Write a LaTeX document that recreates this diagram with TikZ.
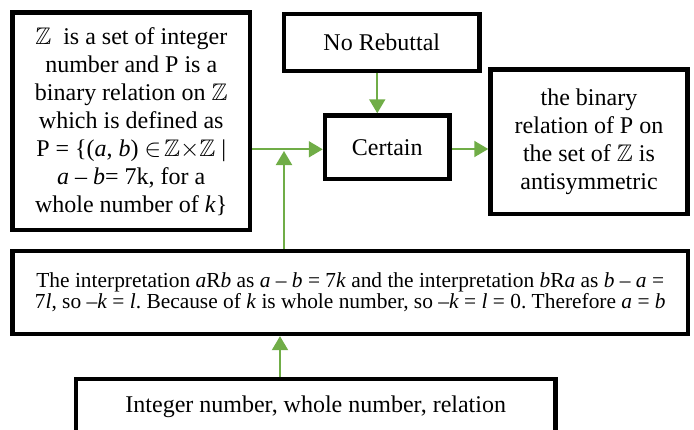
\documentclass[tikz,border=0pt]{standalone}
\usepackage{amssymb}
\usepackage{fontspec}
\setmainfont{Liberation Serif}
\usetikzlibrary{arrows.meta}
\definecolor{flowgreen}{HTML}{70AD47}
\frenchspacing

\begin{document}
\begin{tikzpicture}[x=1pt,y=-1pt,
    box/.style={draw,line width=4.5pt,align=center,inner sep=0pt,
        font=\fontsize{24}{28}\selectfont},
    flow/.style={draw=flowgreen,line width=2pt,-{Triangle[length=14pt,width=16pt]}}]
\clip (0,0) rectangle (694,429);
% boxes
\node[box,minimum width=237.5pt,minimum height=217.5pt] (data) at (131.25,121.25)
    {$\mathbb{Z}$\ \ is a set of integer\\ number and P is a\\ binary relation on $\mathbb{Z}$\\
     which is defined as\\ P = \{(\textit{a}, \textit{b}) $\in\!\mathbb{Z}{\times}\mathbb{Z}$ |\\
     \textit{a} – \textit{b}= 7k, for a\\ whole number of \textit{k}\}};
\node[box,minimum width=195.5pt,minimum height=57pt] (rebut) at (381.75,42.5) {No Rebuttal};
\node[box,minimum width=124.5pt,minimum height=63.5pt] (certain) at (387.25,147.25) {Certain};
\node[box,minimum width=197pt,minimum height=144.5pt] (claim) at (589,141.75)
    {the binary\\ relation of P on\\ the set of $\mathbb{Z}$ is\\ antisymmetric};
\node[box,minimum width=675.5pt,minimum height=83pt,font=\fontsize{21.4}{19.5}\selectfont] (warrant) at (350.25,292.4)
    {The interpretation \textit{a}R\textit{b} as \textit{a} – \textit{b} = 7\textit{k} and the interpretation \textit{b}R\textit{a} as \textit{b} – \textit{a} =\\
     7\textit{l}, so –\textit{k} = \textit{l}. Because of \textit{k} is whole number, so –\textit{k} = \textit{l} = 0. Therefore \textit{a} = \textit{b}};
\node[box,minimum width=479.5pt,minimum height=56pt] (backing) at (315.75,407)
    {Integer number, whole number, relation};
% arrows
\coordinate (join) at (284,149.3);
\coordinate (merge) at (284,151);
\draw[flow] (data.east |- join) -- (join -| certain.west);
\draw[flow] (warrant.north -| merge) -- (merge);
\draw[flow] ([xshift=-4.5pt]rebut.south) coordinate (r) -- (r |- certain.north);
\draw[flow] ([yshift=-1.75pt]certain.east) coordinate (c) -- (c -| claim.west);
\draw[flow] ([xshift=-35.75pt]backing.north) coordinate (b) -- (b |- warrant.south);
\end{tikzpicture}
\end{document}
